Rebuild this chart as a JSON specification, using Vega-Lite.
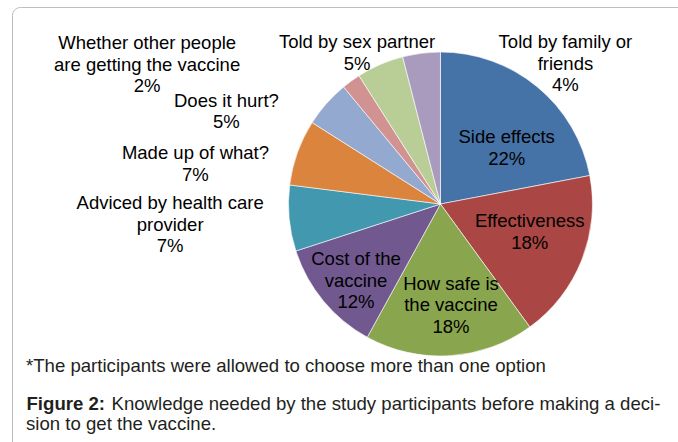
{
  "$schema": "https://vega.github.io/schema/vega-lite/v6.json",
  "autosize": "none",
  "padding": {"left": 12, "top": 7, "right": 0, "bottom": 0},
  "width": 680,
  "height": 450,
  "background": "#ffffff",
  "title": {
    "text": "*The participants were allowed to choose more than one option",
    "subtitle": "sion to get the vaccine.",
    "orient": "bottom",
    "anchor": "start",
    "frame": "group",
    "baseline": "top",
    "offset": -100,
    "dx": 14,
    "font": "Liberation Sans",
    "fontSize": 18.6,
    "fontWeight": "normal",
    "color": "#231f20",
    "subtitleFont": "Liberation Sans",
    "subtitleFontSize": 18.6,
    "subtitleColor": "#231f20",
    "subtitlePadding": 39
  },
  "config": {
    "view": {"stroke": "#bdbdbd", "strokeWidth": 1, "cornerRadius": 8},
    "text": {"font": "Liberation Sans", "fontSize": 18.5, "lineHeight": 21.5, "lineBreak": "\n", "color": "#000000", "align": "center", "baseline": "middle"}
  },
  "data": {
    "values": [
      {"idx": 1, "item": "Side effects", "label": "Side effects\n22%", "value": 22},
      {"idx": 2, "item": "Effectiveness", "label": "Effectiveness\n18%", "value": 18},
      {"idx": 3, "item": "How safe is the vaccine", "label": "How safe is\nthe vaccine\n18%", "value": 18},
      {"idx": 4, "item": "Cost of the vaccine", "label": "Cost of the\nvaccine\n12%", "value": 12},
      {"idx": 5, "item": "Adviced by health care provider", "label": "Adviced by health care\nprovider\n7%", "value": 7},
      {"idx": 6, "item": "Made up of what?", "label": "Made up of what?\n7%", "value": 7},
      {"idx": 7, "item": "Does it hurt?", "label": "Does it hurt?\n5%", "value": 5},
      {"idx": 8, "item": "Whether other people are getting the vaccine", "label": "Whether other people\nare getting the vaccine\n2%", "value": 2},
      {"idx": 9, "item": "Told by sex partner", "label": "Told by sex partner\n5%", "value": 5},
      {"idx": 10, "item": "Told by family or friends", "label": "Told by family or\nfriends\n4%", "value": 4}
    ]
  },
  "encoding": {
    "x": {"datum": "pie", "type": "nominal", "scale": {"type": "point", "align": 0.6301},
          "axis": {"title": "Figure 2:", "domain": false, "ticks": false, "labels": false, "grid": false,
                   "titleFont": "Liberation Sans", "titleFontSize": 18.6, "titleFontWeight": "bold", "titleColor": "#231f20",
                   "titleAlign": "left", "titleAnchor": "start", "titleBaseline": "top", "titleX": 14, "titleY": -63}},
    "y": {"datum": "pie", "type": "nominal", "scale": {"type": "point", "align": 0.4378},
          "axis": {"title": "Knowledge needed by the study participants before making a deci-", "domain": false, "ticks": false, "labels": false, "grid": false,
                   "titleFont": "Liberation Sans", "titleFontSize": 18.6, "titleFontWeight": "normal", "titleColor": "#231f20",
                   "titleAngle": 0, "titleAlign": "left", "titleAnchor": "start", "titleBaseline": "top", "titleX": 99, "titleY": 387}},
    "theta": {"field": "value", "type": "quantitative", "stack": true},
    "order": {"field": "idx", "type": "quantitative"},
    "detail": {"field": "item", "type": "nominal"}
  },
  "layer": [
    {
      "mark": {"type": "arc", "outerRadius": 152, "stroke": "#ffffff", "strokeWidth": 0.6},
      "encoding": {
        "color": {"field": "item", "type": "nominal", "legend": null,
          "scale": {
            "domain": ["Side effects", "Effectiveness", "How safe is the vaccine", "Cost of the vaccine", "Adviced by health care provider", "Made up of what?", "Does it hurt?", "Whether other people are getting the vaccine", "Told by sex partner", "Told by family or friends"],
            "range": ["#4572A7", "#AA4643", "#89A54E", "#71588F", "#4198AF", "#DB843D", "#93A9CF", "#D19392", "#B9CD96", "#A99BBD"]
          }}
      }
    },
    {
      "mark": {"type": "text", "radius": 96, "dx": 5, "dy": 7},
      "encoding": {"text": {"condition": {"test": "datum.idx === 1", "field": "label", "type": "nominal"}, "value": ""}}
    },
    {
      "mark": {"type": "text", "radius": 96, "dx": 0, "dy": -18},
      "encoding": {"text": {"condition": {"test": "datum.idx === 2", "field": "label", "type": "nominal"}, "value": ""}}
    },
    {
      "mark": {"type": "text", "radius": 96, "dx": 4.5, "dy": -16},
      "encoding": {"text": {"condition": {"test": "datum.idx === 3", "field": "label", "type": "nominal"}, "value": ""}}
    },
    {
      "mark": {"type": "text", "radius": 96, "dx": -10.5, "dy": -6},
      "encoding": {"text": {"condition": {"test": "datum.idx === 4", "field": "label", "type": "nominal"}, "value": ""}}
    },
    {
      "mark": {"type": "text", "radius": 152, "dx": -119, "dy": -15},
      "encoding": {"text": {"condition": {"test": "datum.idx === 5", "field": "label", "type": "nominal"}, "value": ""}}
    },
    {
      "mark": {"type": "text", "radius": 152, "dx": -102, "dy": 0.5},
      "encoding": {"text": {"condition": {"test": "datum.idx === 6", "field": "label", "type": "nominal"}, "value": ""}}
    },
    {
      "mark": {"type": "text", "radius": 152, "dx": -100, "dy": -2.5},
      "encoding": {"text": {"condition": {"test": "datum.idx === 7", "field": "label", "type": "nominal"}, "value": ""}}
    },
    {
      "mark": {"type": "text", "radius": 152, "dx": -204, "dy": -38},
      "encoding": {"text": {"condition": {"test": "datum.idx === 8", "field": "label", "type": "nominal"}, "value": ""}}
    },
    {
      "mark": {"type": "text", "radius": 152, "dx": -23, "dy": -22.5},
      "encoding": {"text": {"condition": {"test": "datum.idx === 9", "field": "label", "type": "nominal"}, "value": ""}}
    },
    {
      "mark": {"type": "text", "radius": 152, "dx": 144, "dy": -11},
      "encoding": {"text": {"condition": {"test": "datum.idx === 10", "field": "label", "type": "nominal"}, "value": ""}}
    }
  ]
}
